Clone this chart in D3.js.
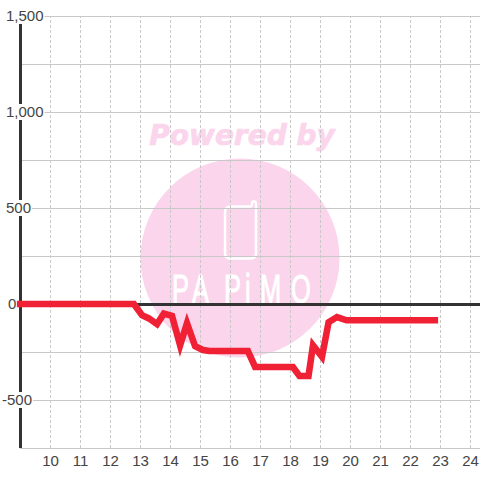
<!DOCTYPE html>
<html><head><meta charset="utf-8">
<script src="https://cdn.jsdelivr.net/npm/d3@7"></script>
<style>html,body{margin:0;padding:0;background:#fff}svg{display:block}</style>
</head><body><div id="c"></div>
<script>
const hourTicks = [10,11,12,13,14,15,16,17,18,19,20,21,22,23,24];
const valueGrid = [1500,1250,1000,750,500,250,0,-250,-500,-750];
const valueLabels = [1500,1000,500,0,-500];
const times = [8.88,12.78,13.05,13.28,13.55,13.78,14.05,14.32,14.55,14.82,15.08,15.3,16.58,16.82,18.08,18.3,18.6,18.75,19.05,19.27,19.55,19.87,22.92];
const values = [0,0,-58,-75,-105,-50,-62,-215,-100,-220,-240,-245,-245,-328,-328,-375,-375,-215,-275,-95,-68,-85,-85];

const W=480,H=480;
const svg=d3.select('#c').append('svg').attr('width',W).attr('height',H);
const x=d3.scaleLinear().domain([9,25]).range([20.5,500.5]);
const y=d3.scaleLinear().domain([1500,-750]).range([16,448]);
const font='"Liberation Sans",Arial,sans-serif';

// watermark
const wm=svg.append('g');
wm.append('circle').attr('cx',240).attr('cy',258).attr('r',99.5).attr('fill','#fbd5ec');
wm.append('text').attr('x',242).attr('y',145).attr('text-anchor','middle')
  .attr('font-family','"DejaVu Sans"').attr('font-weight','bold').attr('font-style','italic')
  .attr('font-size',28).attr('fill','#fbd5ec').attr('stroke','#fbd5ec').attr('stroke-width',0.7).text('Powered by');
wm.append('path').attr('d','M231 206.5 H250 Q252 206.5 252 204 V203 Q252.5 201 254.5 201.5 Q256 202 256 204 V253 Q256 258.5 251 258.5 H230 Q225 258.5 225 253 V212 Q225 206.5 231 206.5 Z')
  .attr('fill','none').attr('stroke','#fff').attr('stroke-width',2.5);
const sx=0.62;
const logoX=[172,192,224,245,260,291];
wm.append('text').attr('transform',`scale(${sx},1)`).attr('x',logoX.map(v=>v/sx).join(' ')).attr('y',303)
  .attr('font-family','"Liberation Sans"').attr('font-size',41).attr('fill','#fff').attr('stroke','#fff').attr('stroke-width',1).text('PAPiMO');

// horizontal grid
const gy=svg.append('g')
  .call(d3.axisLeft(y).offset(0.5).tickValues(valueGrid).tickSize(0).tickFormat(''));
gy.select('.domain').remove();
gy.selectAll('.tick line').attr('x1',20).attr('x2',W).attr('stroke','#c8c8c8').attr('stroke-width',1);

// vertical dashed grid + labels
const gx=svg.append('g').attr('transform','translate(0,448)')
  .call(d3.axisBottom(x).offset(0).tickValues(hourTicks).tickSize(-432).tickFormat(d3.format('d')));
gx.select('.domain').remove();
gx.selectAll('.tick line').attr('stroke','#c8c8c8').attr('stroke-width',1).attr('stroke-dasharray','3,2');
gx.selectAll('.tick text').attr('font-family',font).attr('font-size',15).attr('fill','#444').attr('y',7).attr('dy','0.71em');

// axis lines
svg.append('line').attr('x1',20.5).attr('x2',20.5).attr('y1',16).attr('y2',448).attr('stroke','#333').attr('stroke-width',3);
svg.append('line').attr('x1',20).attr('x2',W).attr('y1',y(0)+0.5).attr('y2',y(0)+0.5).attr('stroke','#333').attr('stroke-width',3);

// y labels with white backing
const fmt=v=>d3.format(',')(v).replace('\u2212','-');
const labs=svg.append('g').selectAll('g').data(valueLabels).join('g')
  .attr('transform',d=>`translate(${d<0?2:d===0?8:6},${y(d)})`);
labs.append('text').attr('font-family',font).attr('font-size',15).attr('fill','#444')
  .attr('dy','0.35em').text(d=>fmt(d));
labs.each(function(){
  const t=d3.select(this).select('text'),b=t.node().getBBox();
  d3.select(this).insert('rect','text').attr('x',-1).attr('y',-8).attr('width',b.width+2).attr('height',16).attr('fill','#fff');
});

// series
const line=d3.line().x((d,i)=>x(times[i])).y(d=>y(d));
svg.append('path').attr('d',line(values)).attr('fill','none').attr('stroke','#f02035').attr('stroke-width',6.6).attr('stroke-linejoin','miter');
</script></body></html>
